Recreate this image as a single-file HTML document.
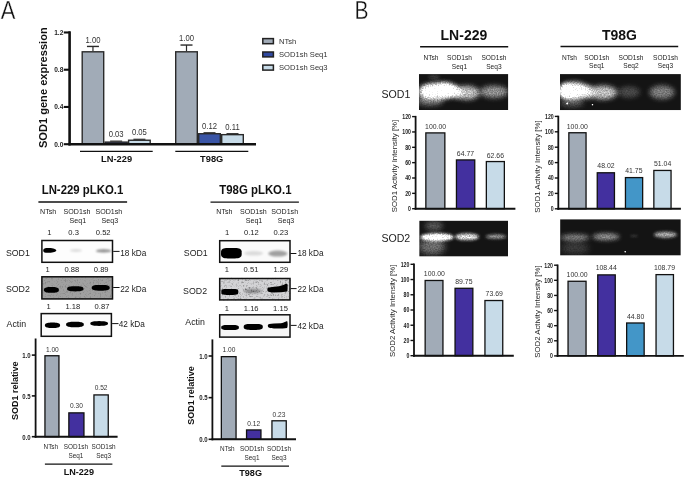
<!DOCTYPE html>
<html><head><meta charset="utf-8"><style>
html,body{margin:0;padding:0;background:#fff;width:685px;height:478px;overflow:hidden;}
body{position:relative;font-family:"Liberation Sans", sans-serif;}
</style></head><body>
<svg width="685" height="478" viewBox="0 0 685 478" style="position:absolute;left:0;top:0;will-change:transform">
<defs>
<filter id="blur1" x="-50%" y="-100%" width="200%" height="300%"><feGaussianBlur stdDeviation="0.75"/></filter>
<filter id="blur1b" x="-50%" y="-100%" width="200%" height="300%"><feGaussianBlur stdDeviation="1.1"/></filter>
<filter id="blur2" x="-50%" y="-100%" width="200%" height="300%"><feGaussianBlur stdDeviation="3"/></filter>
<clipPath id="bc0"><rect x="41.2" y="239.8" width="72.00" height="23.20"/></clipPath><clipPath id="bc1"><rect x="41.2" y="276.1" width="72.00" height="23.50"/></clipPath><filter id="bn1" x="41.2" y="276.1" width="72.00" height="23.50" filterUnits="userSpaceOnUse"><feTurbulence type="fractalNoise" baseFrequency="0.6" numOctaves="3" seed="12"/><feColorMatrix type="matrix" values="0 0 0 0 0  0 0 0 0 0  0 0 0 0 0  -2.6 0 0 0 1.25"/></filter><clipPath id="bc2"><rect x="40.5" y="312.9" width="71.60" height="24.10"/></clipPath><clipPath id="bc3"><rect x="219.0" y="240.0" width="71.70" height="23.00"/></clipPath><clipPath id="bc4"><rect x="219.0" y="277.8" width="71.70" height="22.80"/></clipPath><filter id="bn4" x="219.0" y="277.8" width="71.70" height="22.80" filterUnits="userSpaceOnUse"><feTurbulence type="fractalNoise" baseFrequency="0.55" numOctaves="3" seed="15"/><feColorMatrix type="matrix" values="0 0 0 0 0  0 0 0 0 0  0 0 0 0 0  -2.6 0 0 0 1.25"/></filter><clipPath id="bc5"><rect x="219.0" y="314.1" width="71.70" height="23.70"/></clipPath><clipPath id="gc0"><rect x="418.9" y="74.1" width="89.40" height="36.00"/></clipPath><filter id="grain0" x="418.9" y="74.1" width="89.40" height="36.00" filterUnits="userSpaceOnUse"><feTurbulence type="fractalNoise" baseFrequency="0.75" numOctaves="1" seed="3" result="t"/><feColorMatrix in="t" type="matrix" values="0 0 0 0 1  0 0 0 0 1  0 0 0 0 1  2.0 0 0 0 -0.5" result="m"/><feComposite in="SourceGraphic" in2="m" operator="arithmetic" k1="0.55" k2="0.75" k3="0" k4="0"/><feComponentTransfer><feFuncA type="linear" slope="1.3"/></feComponentTransfer></filter><filter id="gb0" x="-100%" y="-200%" width="300%" height="500%"><feGaussianBlur stdDeviation="2.8"/></filter><filter id="gb1" x="-100%" y="-200%" width="300%" height="500%"><feGaussianBlur stdDeviation="2.5"/></filter><filter id="gb2" x="-100%" y="-200%" width="300%" height="500%"><feGaussianBlur stdDeviation="1.5"/></filter><clipPath id="gc1"><rect x="419.2" y="220.6" width="88.80" height="36.00"/></clipPath><filter id="grain1" x="419.2" y="220.6" width="88.80" height="36.00" filterUnits="userSpaceOnUse"><feTurbulence type="fractalNoise" baseFrequency="0.75" numOctaves="1" seed="5" result="t"/><feColorMatrix in="t" type="matrix" values="0 0 0 0 1  0 0 0 0 1  0 0 0 0 1  2.0 0 0 0 -0.5" result="m"/><feComposite in="SourceGraphic" in2="m" operator="arithmetic" k1="0.55" k2="0.75" k3="0" k4="0"/><feComponentTransfer><feFuncA type="linear" slope="1.3"/></feComponentTransfer></filter><filter id="gb3" x="-100%" y="-200%" width="300%" height="500%"><feGaussianBlur stdDeviation="1.6"/></filter><filter id="gb4" x="-100%" y="-200%" width="300%" height="500%"><feGaussianBlur stdDeviation="1.4"/></filter><filter id="gb5" x="-100%" y="-200%" width="300%" height="500%"><feGaussianBlur stdDeviation="3"/></filter><clipPath id="gc2"><rect x="560.0" y="74.1" width="120.90" height="36.10"/></clipPath><filter id="grain2" x="560.0" y="74.1" width="120.90" height="36.10" filterUnits="userSpaceOnUse"><feTurbulence type="fractalNoise" baseFrequency="0.75" numOctaves="1" seed="7" result="t"/><feColorMatrix in="t" type="matrix" values="0 0 0 0 1  0 0 0 0 1  0 0 0 0 1  2.0 0 0 0 -0.5" result="m"/><feComposite in="SourceGraphic" in2="m" operator="arithmetic" k1="0.55" k2="0.75" k3="0" k4="0"/><feComponentTransfer><feFuncA type="linear" slope="1.3"/></feComponentTransfer></filter><filter id="gb6" x="-100%" y="-200%" width="300%" height="500%"><feGaussianBlur stdDeviation="2.6"/></filter><filter id="gb7" x="-100%" y="-200%" width="300%" height="500%"><feGaussianBlur stdDeviation="2"/></filter><filter id="gb8" x="-100%" y="-200%" width="300%" height="500%"><feGaussianBlur stdDeviation="0.3"/></filter><clipPath id="gc3"><rect x="560.1" y="219.2" width="120.70" height="36.40"/></clipPath><filter id="grain3" x="560.1" y="219.2" width="120.70" height="36.40" filterUnits="userSpaceOnUse"><feTurbulence type="fractalNoise" baseFrequency="0.75" numOctaves="1" seed="9" result="t"/><feColorMatrix in="t" type="matrix" values="0 0 0 0 1  0 0 0 0 1  0 0 0 0 1  2.0 0 0 0 -0.5" result="m"/><feComposite in="SourceGraphic" in2="m" operator="arithmetic" k1="0.55" k2="0.75" k3="0" k4="0"/><feComponentTransfer><feFuncA type="linear" slope="1.3"/></feComponentTransfer></filter><filter id="gb9" x="-100%" y="-200%" width="300%" height="500%"><feGaussianBlur stdDeviation="1.2"/></filter><filter id="gb10" x="-100%" y="-200%" width="300%" height="500%"><feGaussianBlur stdDeviation="1.8"/></filter>
</defs>
<g font-family='"Liberation Sans", sans-serif'>
<g clip-path="url(#bc0)"><rect x="41.2" y="239.8" width="72.00" height="23.20" fill="#fdfdfd"/><path d="M43.2,250.5 C43.2,248.2 46,247.9 49.5,248.1 C53,248.3 56.3,249.3 56.3,250.5 C56.3,251.7 53,252.6 49.5,252.8 C46,253.0 43.2,252.8 43.2,250.5 Z" fill="#000" filter="url(#blur1)"/><ellipse cx="76.00" cy="250.50" rx="6.20" ry="1.46" fill="#000" opacity="0.13" filter="url(#blur1b)"/><ellipse cx="103.60" cy="250.90" rx="7.60" ry="1.68" fill="#000" opacity="0.45" filter="url(#blur1b)"/></g><rect x="41.90" y="240.50" width="70.60" height="21.80" fill="none" stroke="#111" stroke-width="1.5"/><g clip-path="url(#bc1)"><rect x="41.2" y="276.1" width="72.00" height="23.50" fill="#a0a0a0"/><rect x="41.2" y="276.1" width="72.00" height="23.50" fill="#000" opacity="0.2" filter="url(#bn1)"/><path d="M58.90,289.90 L58.83,290.64 L58.63,291.12 L58.29,291.52 L57.81,291.87 L57.20,292.16 L56.46,292.39 L55.58,292.58 L54.54,292.71 L53.30,292.79 L51.40,292.82 L49.50,292.79 L48.26,292.71 L47.22,292.58 L46.34,292.39 L45.60,292.16 L44.99,291.87 L44.51,291.52 L44.17,291.12 L43.97,290.64 L43.90,289.90 L43.97,289.16 L44.17,288.68 L44.51,288.28 L44.99,287.93 L45.60,287.64 L46.34,287.41 L47.22,287.22 L48.26,287.09 L49.50,287.01 L51.40,286.98 L53.30,287.01 L54.54,287.09 L55.58,287.22 L56.46,287.41 L57.20,287.64 L57.81,287.93 L58.29,288.28 L58.63,288.68 L58.83,289.16 Z" fill="#000" opacity="1.0" filter="url(#blur1)"/><path d="M83.50,288.80 L83.43,289.46 L83.20,289.89 L82.83,290.24 L82.31,290.55 L81.64,290.81 L80.83,291.02 L79.87,291.18 L78.74,291.30 L77.38,291.37 L75.30,291.39 L73.22,291.37 L71.86,291.30 L70.73,291.18 L69.77,291.02 L68.96,290.81 L68.29,290.55 L67.77,290.24 L67.40,289.89 L67.17,289.46 L67.10,288.80 L67.17,288.14 L67.40,287.71 L67.77,287.36 L68.29,287.05 L68.96,286.79 L69.77,286.58 L70.73,286.42 L71.86,286.30 L73.22,286.23 L75.30,286.21 L77.38,286.23 L78.74,286.30 L79.87,286.42 L80.83,286.58 L81.64,286.79 L82.31,287.05 L82.83,287.36 L83.20,287.71 L83.43,288.14 Z" fill="#000" opacity="1.0" filter="url(#blur1)"/><path d="M109.70,287.80 L109.62,288.54 L109.37,289.02 L108.96,289.42 L108.39,289.77 L107.66,290.06 L106.77,290.29 L105.71,290.48 L104.47,290.61 L102.98,290.69 L100.70,290.72 L98.42,290.69 L96.93,290.61 L95.69,290.48 L94.63,290.29 L93.74,290.06 L93.01,289.77 L92.44,289.42 L92.03,289.02 L91.78,288.54 L91.70,287.80 L91.78,287.06 L92.03,286.58 L92.44,286.18 L93.01,285.83 L93.74,285.54 L94.63,285.31 L95.69,285.12 L96.93,284.99 L98.42,284.91 L100.70,284.88 L102.98,284.91 L104.47,284.99 L105.71,285.12 L106.77,285.31 L107.66,285.54 L108.39,285.83 L108.96,286.18 L109.37,286.58 L109.62,287.06 Z" fill="#000" opacity="1.0" filter="url(#blur1)"/></g><rect x="41.90" y="276.80" width="70.60" height="22.10" fill="none" stroke="#111" stroke-width="1.5"/><g clip-path="url(#bc2)"><rect x="40.5" y="312.9" width="71.60" height="24.10" fill="#fbfbfb"/><path d="M60.10,325.30 L60.03,325.98 L59.82,326.43 L59.48,326.80 L59.00,327.12 L58.38,327.39 L57.63,327.61 L56.73,327.78 L55.68,327.90 L54.42,327.98 L52.50,328.00 L50.58,327.98 L49.32,327.90 L48.27,327.78 L47.37,327.61 L46.62,327.39 L46.00,327.12 L45.52,326.80 L45.18,326.43 L44.97,325.98 L44.90,325.30 L44.97,324.62 L45.18,324.17 L45.52,323.80 L46.00,323.48 L46.62,323.21 L47.37,322.99 L48.27,322.82 L49.32,322.70 L50.58,322.62 L52.50,322.60 L54.42,322.62 L55.68,322.70 L56.73,322.82 L57.63,322.99 L58.38,323.21 L59.00,323.48 L59.48,323.80 L59.82,324.17 L60.03,324.62 Z" fill="#000" opacity="1.0" filter="url(#blur1)"/><path d="M83.80,324.50 L83.72,325.20 L83.48,325.65 L83.07,326.03 L82.51,326.36 L81.80,326.63 L80.92,326.85 L79.88,327.03 L78.66,327.15 L77.19,327.23 L74.95,327.25 L72.71,327.23 L71.24,327.15 L70.02,327.03 L68.98,326.85 L68.10,326.63 L67.39,326.36 L66.83,326.03 L66.42,325.65 L66.18,325.20 L66.10,324.50 L66.18,323.80 L66.42,323.35 L66.83,322.97 L67.39,322.64 L68.10,322.37 L68.98,322.15 L70.02,321.97 L71.24,321.85 L72.71,321.77 L74.95,321.75 L77.19,321.77 L78.66,321.85 L79.88,321.97 L80.92,322.15 L81.80,322.37 L82.51,322.64 L83.07,322.97 L83.48,323.35 L83.72,323.80 Z" fill="#000" opacity="1.0" filter="url(#blur1)"/><path d="M108.00,323.50 L107.92,324.10 L107.68,324.50 L107.27,324.82 L106.71,325.10 L106.00,325.34 L105.12,325.53 L104.08,325.68 L102.86,325.79 L101.39,325.85 L99.15,325.88 L96.91,325.85 L95.44,325.79 L94.22,325.68 L93.18,325.53 L92.30,325.34 L91.59,325.10 L91.03,324.82 L90.62,324.50 L90.38,324.10 L90.30,323.50 L90.38,322.90 L90.62,322.50 L91.03,322.18 L91.59,321.90 L92.30,321.66 L93.18,321.47 L94.22,321.32 L95.44,321.21 L96.91,321.15 L99.15,321.12 L101.39,321.15 L102.86,321.21 L104.08,321.32 L105.12,321.47 L106.00,321.66 L106.71,321.90 L107.27,322.18 L107.68,322.50 L107.92,322.90 Z" fill="#000" opacity="1.0" filter="url(#blur1)"/></g><rect x="41.20" y="313.60" width="70.20" height="22.70" fill="none" stroke="#111" stroke-width="1.5"/><g clip-path="url(#bc3)"><rect x="219.0" y="240.0" width="71.70" height="23.00" fill="#fafafa"/><path d="M241.70,253.20 L241.63,255.03 L241.41,255.91 L241.04,256.57 L240.52,257.11 L239.84,257.54 L238.99,257.89 L237.94,258.15 L236.64,258.34 L234.94,258.45 L231.35,258.49 L227.76,258.45 L226.06,258.34 L224.76,258.15 L223.71,257.89 L222.86,257.54 L222.18,257.11 L221.66,256.57 L221.29,255.91 L221.07,255.03 L221.00,253.20 L221.07,251.37 L221.29,250.49 L221.66,249.83 L222.18,249.29 L222.86,248.86 L223.71,248.51 L224.76,248.25 L226.06,248.06 L227.76,247.95 L231.35,247.91 L234.94,247.95 L236.64,248.06 L237.94,248.25 L238.99,248.51 L239.84,248.86 L240.52,249.29 L241.04,249.83 L241.41,250.49 L241.63,251.37 Z" fill="#000" opacity="1.0" filter="url(#blur1)"/><ellipse cx="253.65" cy="253.30" rx="9.65" ry="2.24" fill="#000" opacity="0.12" filter="url(#blur1b)"/><ellipse cx="277.85" cy="253.60" rx="9.65" ry="3.02" fill="#000" opacity="0.36" filter="url(#blur1b)"/></g><rect x="219.70" y="240.70" width="70.30" height="21.60" fill="none" stroke="#111" stroke-width="1.5"/><g clip-path="url(#bc4)"><rect x="219.0" y="277.8" width="71.70" height="22.80" fill="#d3d3d5"/><rect x="219.0" y="277.8" width="71.70" height="22.80" fill="#000" opacity="0.4" filter="url(#bn4)"/><path d="M238.30,291.90 L238.25,293.10 L238.09,293.58 L237.82,293.94 L237.45,294.22 L236.95,294.44 L236.32,294.62 L235.53,294.75 L234.53,294.85 L233.16,294.91 L229.80,294.92 L226.44,294.91 L225.07,294.85 L224.07,294.75 L223.28,294.62 L222.65,294.44 L222.15,294.22 L221.78,293.94 L221.51,293.58 L221.35,293.10 L221.30,291.90 L221.35,290.70 L221.51,290.22 L221.78,289.86 L222.15,289.58 L222.65,289.36 L223.28,289.18 L224.07,289.05 L225.07,288.95 L226.44,288.89 L229.80,288.88 L233.16,288.89 L234.53,288.95 L235.53,289.05 L236.32,289.18 L236.95,289.36 L237.45,289.58 L237.82,289.86 L238.09,290.22 L238.25,290.70 Z" fill="#000" opacity="1.0" filter="url(#blur1)"/><ellipse cx="252.80" cy="291.00" rx="8.80" ry="2.35" fill="#000" opacity="0.33" filter="url(#blur1b)"/><path d="M267.6,287.8 L272,286.9 L279,286.2 L284,284.8 L286.2,283.4 L287.6,284.6 L287.6,289 L287.2,291.6 L281,292.3 L272,292.4 L268.4,291.8 L267.3,290 Z" fill="#000" filter="url(#blur1)"/></g><rect x="219.70" y="278.50" width="70.30" height="21.40" fill="none" stroke="#111" stroke-width="1.5"/><g clip-path="url(#bc5)"><rect x="219.0" y="314.1" width="71.70" height="23.70" fill="#f6f6f6"/><path d="M238.90,327.50 L238.83,328.31 L238.63,328.74 L238.28,329.08 L237.80,329.36 L237.18,329.59 L236.40,329.77 L235.45,329.91 L234.30,330.01 L232.83,330.07 L230.05,330.09 L227.27,330.07 L225.80,330.01 L224.65,329.91 L223.70,329.77 L222.92,329.59 L222.30,329.36 L221.82,329.08 L221.47,328.74 L221.27,328.31 L221.20,327.50 L221.27,326.69 L221.47,326.26 L221.82,325.92 L222.30,325.64 L222.92,325.41 L223.70,325.23 L224.65,325.09 L225.80,324.99 L227.27,324.93 L230.05,324.91 L232.83,324.93 L234.30,324.99 L235.45,325.09 L236.40,325.23 L237.18,325.41 L237.80,325.64 L238.28,325.92 L238.63,326.26 L238.83,326.69 Z" fill="#000" opacity="1.0" filter="url(#blur1)"/><path d="M262.80,326.90 L262.73,327.85 L262.51,328.35 L262.14,328.75 L261.62,329.07 L260.94,329.34 L260.10,329.55 L259.08,329.71 L257.83,329.83 L256.25,329.90 L253.25,329.92 L250.25,329.90 L248.67,329.83 L247.42,329.71 L246.40,329.55 L245.56,329.34 L244.88,329.07 L244.36,328.75 L243.99,328.35 L243.77,327.85 L243.70,326.90 L243.77,325.95 L243.99,325.45 L244.36,325.05 L244.88,324.73 L245.56,324.46 L246.40,324.25 L247.42,324.09 L248.67,323.97 L250.25,323.90 L253.25,323.88 L256.25,323.90 L257.83,323.97 L259.08,324.09 L260.10,324.25 L260.94,324.46 L261.62,324.73 L262.14,325.05 L262.51,325.45 L262.73,325.95 Z" fill="#000" opacity="1.0" filter="url(#blur1)"/><path d="M267.8,325.6 C267.8,324.1 270,323.8 274,323.6 L281,323.2 C284,322.8 286,321.4 287.1,321.0 C287.9,322.6 287.9,326.4 287.1,327.9 C284,328.5 279,328.6 274,328.5 C270,328.4 267.8,327.9 267.8,325.6 Z" fill="#000" filter="url(#blur1)"/></g><rect x="219.70" y="314.80" width="70.30" height="22.30" fill="none" stroke="#111" stroke-width="1.5"/><g clip-path="url(#gc0)"><rect x="418.9" y="74.1" width="89.40" height="36.00" fill="#141414"/><g filter="url(#grain0)"><ellipse cx="439" cy="91.0" rx="17" ry="8" fill="#fff" opacity="0.85" filter="url(#gb0)"/><ellipse cx="426" cy="92" rx="8" ry="6.5" fill="#fff" opacity="0.6" filter="url(#gb1)"/><ellipse cx="447" cy="89.5" rx="9" ry="6" fill="#fff" opacity="0.72" filter="url(#gb1)"/><ellipse cx="456" cy="92" rx="6" ry="6" fill="#fff" opacity="0.55" filter="url(#gb1)"/><ellipse cx="467" cy="92.8" rx="12.5" ry="6.8" fill="#fff" opacity="0.55" filter="url(#gb0)"/><ellipse cx="494" cy="91.8" rx="14" ry="6" fill="#fff" opacity="0.4" filter="url(#gb0)"/><ellipse cx="430" cy="101" rx="13" ry="4.5" fill="#fff" opacity="0.3" filter="url(#gb1)"/><ellipse cx="434" cy="77" rx="6" ry="2" fill="#fff" opacity="0.12" filter="url(#gb2)"/></g></g><g clip-path="url(#gc1)"><rect x="419.2" y="220.6" width="88.80" height="36.00" fill="#141414"/><g filter="url(#grain1)"><ellipse cx="437" cy="237.2" rx="16.5" ry="3.7" fill="#fff" opacity="0.85" filter="url(#gb3)"/><ellipse cx="467" cy="236.8" rx="12" ry="3.3" fill="#fff" opacity="0.66" filter="url(#gb3)"/><ellipse cx="496" cy="236.6" rx="10.5" ry="2.0" fill="#fff" opacity="0.45" filter="url(#gb4)"/><ellipse cx="432" cy="246.5" rx="13" ry="8" fill="#fff" opacity="0.28" filter="url(#gb5)"/><ellipse cx="434" cy="226" rx="9" ry="5" fill="#fff" opacity="0.2" filter="url(#gb1)"/></g></g><g clip-path="url(#gc2)"><rect x="560.0" y="74.1" width="120.90" height="36.10" fill="#141414"/><g filter="url(#grain2)"><ellipse cx="574" cy="91" rx="14.5" ry="8.5" fill="#fff" opacity="0.85" filter="url(#gb6)"/><ellipse cx="566" cy="91" rx="6" ry="7.5" fill="#fff" opacity="0.7" filter="url(#gb7)"/><ellipse cx="588" cy="92" rx="6" ry="6.5" fill="#fff" opacity="0.55" filter="url(#gb6)"/><ellipse cx="603" cy="92.5" rx="14" ry="6.8" fill="#fff" opacity="0.55" filter="url(#gb6)"/><ellipse cx="629" cy="92" rx="11" ry="5.5" fill="#fff" opacity="0.17" filter="url(#gb6)"/><ellipse cx="662" cy="92.3" rx="12.5" ry="6.8" fill="#fff" opacity="0.33" filter="url(#gb6)"/><ellipse cx="572" cy="103" rx="12" ry="4" fill="#fff" opacity="0.2" filter="url(#gb1)"/><ellipse cx="567.3" cy="103.4" rx="0.9" ry="0.9" fill="#fff" opacity="0.9" filter="url(#gb8)"/><ellipse cx="592.5" cy="104.8" rx="0.8" ry="0.8" fill="#fff" opacity="0.7" filter="url(#gb8)"/></g></g><g clip-path="url(#gc3)"><rect x="560.1" y="219.2" width="120.70" height="36.40" fill="#141414"/><g filter="url(#grain3)"><ellipse cx="575" cy="237.5" rx="14.5" ry="3.3" fill="#fff" opacity="0.34" filter="url(#gb7)"/><ellipse cx="606" cy="236.8" rx="13.5" ry="3.2" fill="#fff" opacity="0.42" filter="url(#gb7)"/><ellipse cx="634" cy="236" rx="4" ry="1.2" fill="#fff" opacity="0.1" filter="url(#gb9)"/><ellipse cx="665.5" cy="234.7" rx="11.5" ry="3.0" fill="#fff" opacity="0.47" filter="url(#gb10)"/><ellipse cx="575" cy="248" rx="14" ry="6" fill="#fff" opacity="0.12" filter="url(#gb5)"/><ellipse cx="625.2" cy="251.8" rx="0.8" ry="0.8" fill="#fff" opacity="0.8" filter="url(#gb8)"/></g></g>
<text transform="translate(0.8,18.7) scale(0.83,1)" font-size="26.5" fill="#111" stroke="#fff" stroke-width="0.35">A</text>
<text transform="translate(354.4,18.9) scale(0.8,1)" font-size="26.3" fill="#111" stroke="#fff" stroke-width="0.35">B</text>
<rect x="82.2" y="51.8" width="21.50" height="92.20" fill="#a1abb7" stroke="#2a2a2a" stroke-width="1.4"/>
<line x1="92.95" y1="51.099999999999994" x2="92.95" y2="46.44499999999999" stroke="#2a2a2a" stroke-width="1.2"/>
<line x1="86.95" y1="46.44499999999999" x2="98.95" y2="46.44499999999999" stroke="#2a2a2a" stroke-width="1.4"/>
<rect x="105.10000000000001" y="142.10699999999997" width="22.10" height="1.89" fill="#2b3f80" stroke="#2a2a2a" stroke-width="1.4"/>
<line x1="110.15" y1="141.10699999999997" x2="122.15" y2="141.10699999999997" stroke="#222" stroke-width="1.1"/>
<rect x="128.6" y="140.24499999999998" width="21.60" height="3.76" fill="#c7dbe8" stroke="#2a2a2a" stroke-width="1.4"/>
<line x1="133.4" y1="139.24499999999998" x2="145.4" y2="139.24499999999998" stroke="#222" stroke-width="1.1"/>
<rect x="175.7" y="51.8" width="21.60" height="92.20" fill="#a1abb7" stroke="#2a2a2a" stroke-width="1.4"/>
<line x1="186.5" y1="51.099999999999994" x2="186.5" y2="45.048500000000004" stroke="#2a2a2a" stroke-width="1.2"/>
<line x1="180.5" y1="45.048500000000004" x2="192.5" y2="45.048500000000004" stroke="#2a2a2a" stroke-width="1.4"/>
<rect x="198.7" y="133.72799999999998" width="21.60" height="10.27" fill="#3a55a6" stroke="#2a2a2a" stroke-width="1.4"/>
<line x1="203.5" y1="132.72799999999998" x2="215.5" y2="132.72799999999998" stroke="#222" stroke-width="1.1"/>
<rect x="221.7" y="134.659" width="21.60" height="9.34" fill="#c7dbe8" stroke="#2a2a2a" stroke-width="1.4"/>
<line x1="226.5" y1="133.659" x2="238.5" y2="133.659" stroke="#222" stroke-width="1.1"/>
<text transform="translate(92.95,42.6) scale(0.9434,1)" font-size="8.16" text-anchor="middle" font-weight="normal" fill="#333" >1.00</text>
<text transform="translate(116.15,136.9) scale(0.9434,1)" font-size="8.16" text-anchor="middle" font-weight="normal" fill="#333" >0.03</text>
<text transform="translate(139.4,135.3) scale(0.9434,1)" font-size="8.16" text-anchor="middle" font-weight="normal" fill="#333" >0.05</text>
<text transform="translate(186.5,41.4) scale(0.9434,1)" font-size="8.16" text-anchor="middle" font-weight="normal" fill="#333" >1.00</text>
<text transform="translate(209.5,129.0) scale(0.9434,1)" font-size="8.16" text-anchor="middle" font-weight="normal" fill="#333" >0.12</text>
<text transform="translate(232.5,129.6) scale(0.9434,1)" font-size="8.16" text-anchor="middle" font-weight="normal" fill="#333" >0.11</text>
<line x1="69.6" y1="31.3" x2="69.6" y2="145.4" stroke="#111" stroke-width="2.6"/>
<line x1="68.4" y1="144.2" x2="256" y2="144.2" stroke="#111" stroke-width="2.4"/>
<line x1="63.8" y1="32.480000000000004" x2="70" y2="32.480000000000004" stroke="#111" stroke-width="2.1"/>
<text transform="translate(63.3,34.78) scale(0.9434,1)" font-size="7.00" text-anchor="end" font-weight="bold" fill="#222" >1.2</text>
<line x1="63.8" y1="69.71999999999998" x2="70" y2="69.71999999999998" stroke="#111" stroke-width="2.1"/>
<text transform="translate(63.3,72.01999999999998) scale(0.9434,1)" font-size="7.00" text-anchor="end" font-weight="bold" fill="#222" >0.8</text>
<line x1="63.8" y1="106.95999999999998" x2="70" y2="106.95999999999998" stroke="#111" stroke-width="2.1"/>
<text transform="translate(63.3,109.25999999999998) scale(0.9434,1)" font-size="7.00" text-anchor="end" font-weight="bold" fill="#222" >0.4</text>
<line x1="63.8" y1="144.2" x2="70" y2="144.2" stroke="#111" stroke-width="2.1"/>
<text transform="translate(63.3,146.5) scale(0.9434,1)" font-size="7.00" text-anchor="end" font-weight="bold" fill="#222" >0.0</text>
<text transform="translate(42.5,87.7) rotate(-90)" x="0" y="4.00" font-size="11.1" text-anchor="middle" font-weight="bold" fill="#111">SOD1 gene expression</text>
<line x1="80" y1="151.4" x2="152.7" y2="151.4" stroke="#111" stroke-width="1.3"/>
<line x1="175.3" y1="151.4" x2="248.3" y2="151.4" stroke="#111" stroke-width="1.3"/>
<text transform="translate(116.6,162.0) scale(0.9434,1)" font-size="9.86" text-anchor="middle" font-weight="bold" fill="#111" >LN-229</text>
<text transform="translate(211.7,162.2) scale(0.9434,1)" font-size="9.86" text-anchor="middle" font-weight="bold" fill="#111" >T98G</text>
<rect x="262.8" y="38.6" width="10.60" height="5.10" fill="#a1abb7" stroke="#222" stroke-width="1.5"/>
<text transform="translate(279,43.8) scale(0.9434,1)" font-size="8.06" text-anchor="start" font-weight="normal" fill="#333" >NTsh</text>
<rect x="262.8" y="52.0" width="10.60" height="4.90" fill="#3049a0" stroke="#222" stroke-width="1.5"/>
<text transform="translate(279,57.0) scale(0.9434,1)" font-size="8.06" text-anchor="start" font-weight="normal" fill="#333" >SOD1sh Seq1</text>
<rect x="262.8" y="65.10000000000001" width="10.60" height="5.00" fill="#c7dbe8" stroke="#222" stroke-width="1.5"/>
<text transform="translate(279,70.3) scale(0.9434,1)" font-size="8.06" text-anchor="start" font-weight="normal" fill="#333" >SOD1sh Seq3</text>
<text transform="translate(82.5,194.3) scale(0.9434,1)" font-size="12.08" text-anchor="middle" font-weight="bold" fill="#111" >LN-229 pLKO.1</text>
<line x1="38.4" y1="202" x2="127.1" y2="202" stroke="#111" stroke-width="1.3"/>
<text transform="translate(48.2,213.5) scale(0.9434,1)" font-size="7.53" text-anchor="middle" font-weight="normal" fill="#222" >NTsh</text>
<text transform="translate(77.0,213.5) scale(0.9434,1)" font-size="7.53" text-anchor="middle" font-weight="normal" fill="#222" >SOD1sh</text>
<text transform="translate(77.9,222.9) scale(0.9434,1)" font-size="7.53" text-anchor="middle" font-weight="normal" fill="#222" >Seq1</text>
<text transform="translate(108.9,213.5) scale(0.9434,1)" font-size="7.53" text-anchor="middle" font-weight="normal" fill="#222" >SOD1sh</text>
<text transform="translate(109.9,222.9) scale(0.9434,1)" font-size="7.53" text-anchor="middle" font-weight="normal" fill="#222" >Seq3</text>
<text transform="translate(49.4,234.6) scale(0.9434,1)" font-size="8.06" text-anchor="middle" font-weight="normal" fill="#222" >1</text>
<text transform="translate(73.6,234.6) scale(0.9434,1)" font-size="8.06" text-anchor="middle" font-weight="normal" fill="#222" >0.3</text>
<text transform="translate(103.2,234.6) scale(0.9434,1)" font-size="8.06" text-anchor="middle" font-weight="normal" fill="#222" >0.52</text>
<text transform="translate(47.7,271.8) scale(0.9434,1)" font-size="8.06" text-anchor="middle" font-weight="normal" fill="#222" >1</text>
<text transform="translate(71.8,271.8) scale(0.9434,1)" font-size="8.06" text-anchor="middle" font-weight="normal" fill="#222" >0.88</text>
<text transform="translate(101.2,271.8) scale(0.9434,1)" font-size="8.06" text-anchor="middle" font-weight="normal" fill="#222" >0.89</text>
<text transform="translate(48.6,309) scale(0.9434,1)" font-size="8.06" text-anchor="middle" font-weight="normal" fill="#222" >1</text>
<text transform="translate(72.9,309) scale(0.9434,1)" font-size="8.06" text-anchor="middle" font-weight="normal" fill="#222" >1.18</text>
<text transform="translate(102,309) scale(0.9434,1)" font-size="8.06" text-anchor="middle" font-weight="normal" fill="#222" >0.87</text>
<text transform="translate(255.4,194.3) scale(0.9434,1)" font-size="12.08" text-anchor="middle" font-weight="bold" fill="#111" >T98G pLKO.1</text>
<line x1="210.5" y1="202.2" x2="298.9" y2="202.2" stroke="#111" stroke-width="1.3"/>
<text transform="translate(224.4,213.5) scale(0.9434,1)" font-size="7.53" text-anchor="middle" font-weight="normal" fill="#222" >NTsh</text>
<text transform="translate(253.3,213.5) scale(0.9434,1)" font-size="7.53" text-anchor="middle" font-weight="normal" fill="#222" >SOD1sh</text>
<text transform="translate(254.0,222.9) scale(0.9434,1)" font-size="7.53" text-anchor="middle" font-weight="normal" fill="#222" >Seq1</text>
<text transform="translate(284.7,213.5) scale(0.9434,1)" font-size="7.53" text-anchor="middle" font-weight="normal" fill="#222" >SOD1sh</text>
<text transform="translate(286.0,222.9) scale(0.9434,1)" font-size="7.53" text-anchor="middle" font-weight="normal" fill="#222" >Seq3</text>
<text transform="translate(227.2,234.7) scale(0.9434,1)" font-size="8.06" text-anchor="middle" font-weight="normal" fill="#222" >1</text>
<text transform="translate(251.4,234.7) scale(0.9434,1)" font-size="8.06" text-anchor="middle" font-weight="normal" fill="#222" >0.12</text>
<text transform="translate(280.9,234.7) scale(0.9434,1)" font-size="8.06" text-anchor="middle" font-weight="normal" fill="#222" >0.23</text>
<text transform="translate(226.9,271.8) scale(0.9434,1)" font-size="8.06" text-anchor="middle" font-weight="normal" fill="#222" >1</text>
<text transform="translate(251,271.8) scale(0.9434,1)" font-size="8.06" text-anchor="middle" font-weight="normal" fill="#222" >0.51</text>
<text transform="translate(280.8,271.8) scale(0.9434,1)" font-size="8.06" text-anchor="middle" font-weight="normal" fill="#222" >1.29</text>
<text transform="translate(226.9,310.5) scale(0.9434,1)" font-size="8.06" text-anchor="middle" font-weight="normal" fill="#222" >1</text>
<text transform="translate(251.2,310.5) scale(0.9434,1)" font-size="8.06" text-anchor="middle" font-weight="normal" fill="#222" >1.16</text>
<text transform="translate(280.5,310.5) scale(0.9434,1)" font-size="8.06" text-anchor="middle" font-weight="normal" fill="#222" >1.15</text>
<text transform="translate(5.9,255.8) scale(0.9434,1)" font-size="9.33" text-anchor="start" font-weight="normal" fill="#222" >SOD1</text>
<text transform="translate(5.9,291.9) scale(0.9434,1)" font-size="9.33" text-anchor="start" font-weight="normal" fill="#222" >SOD2</text>
<text transform="translate(6.6,327.4) scale(0.9434,1)" font-size="9.33" text-anchor="start" font-weight="normal" fill="#222" >Actin</text>
<text transform="translate(183.8,255.8) scale(0.9434,1)" font-size="9.33" text-anchor="start" font-weight="normal" fill="#222" >SOD1</text>
<text transform="translate(183.1,293.6) scale(0.9434,1)" font-size="9.33" text-anchor="start" font-weight="normal" fill="#222" >SOD2</text>
<text transform="translate(185.3,324.7) scale(0.9434,1)" font-size="9.33" text-anchor="start" font-weight="normal" fill="#222" >Actin</text>
<line x1="113.2" y1="251.4" x2="119.60000000000001" y2="251.4" stroke="#111" stroke-width="1.0"/>
<text transform="translate(120.2,255.8) scale(0.9434,1)" font-size="8.75" text-anchor="start" font-weight="normal" fill="#222" >18 kDa</text>
<line x1="113.2" y1="287.5" x2="119.60000000000001" y2="287.5" stroke="#111" stroke-width="1.0"/>
<text transform="translate(120.2,291.9) scale(0.9434,1)" font-size="8.75" text-anchor="start" font-weight="normal" fill="#222" >22 kDa</text>
<line x1="112.1" y1="323.6" x2="118.5" y2="323.6" stroke="#111" stroke-width="1.0"/>
<text transform="translate(118.7,327.4) scale(0.9434,1)" font-size="8.75" text-anchor="start" font-weight="normal" fill="#222" >42 kDa</text>
<line x1="290.4" y1="253.5" x2="296.4" y2="253.5" stroke="#111" stroke-width="1.0"/>
<text transform="translate(297.4,255.8) scale(0.9434,1)" font-size="8.75" text-anchor="start" font-weight="normal" fill="#222" >18 kDa</text>
<line x1="290.6" y1="288.6" x2="296.59999999999997" y2="288.6" stroke="#111" stroke-width="1.0"/>
<text transform="translate(297.4,291.9) scale(0.9434,1)" font-size="8.75" text-anchor="start" font-weight="normal" fill="#222" >22 kDa</text>
<line x1="290.6" y1="325.4" x2="296.59999999999997" y2="325.4" stroke="#111" stroke-width="1.0"/>
<text transform="translate(297.4,328.7) scale(0.9434,1)" font-size="8.75" text-anchor="start" font-weight="normal" fill="#222" >42 kDa</text>
<rect x="44.949999999999996" y="355.75" width="14.00" height="80.95" fill="#a1abb7" stroke="#111" stroke-width="1.3"/>
<rect x="68.85000000000001" y="412.87" width="15.10" height="23.83" fill="#43309f" stroke="#111" stroke-width="1.3"/>
<rect x="93.95" y="394.918" width="14.30" height="41.78" fill="#c7dbe8" stroke="#111" stroke-width="1.3"/>
<line x1="35.6" y1="338.5" x2="35.6" y2="437.7" stroke="#111" stroke-width="1.8"/>
<line x1="34.7" y1="436.7" x2="117.6" y2="436.7" stroke="#111" stroke-width="1.9"/>
<line x1="31.8" y1="355.1" x2="35.6" y2="355.1" stroke="#111" stroke-width="1.6"/>
<text transform="translate(30.700000000000003,357.90000000000003) scale(0.8628,1)" font-size="7.00" text-anchor="end" font-weight="bold" fill="#222" >1.0</text>
<line x1="31.8" y1="395.9" x2="35.6" y2="395.9" stroke="#111" stroke-width="1.6"/>
<text transform="translate(30.700000000000003,398.7) scale(0.8628,1)" font-size="7.00" text-anchor="end" font-weight="bold" fill="#222" >0.5</text>
<line x1="31.8" y1="436.7" x2="35.6" y2="436.7" stroke="#111" stroke-width="1.6"/>
<text transform="translate(30.700000000000003,439.5) scale(0.8628,1)" font-size="7.00" text-anchor="end" font-weight="bold" fill="#222" >0.0</text>
<text transform="translate(52.3,351.5) scale(0.9434,1)" font-size="7.00" text-anchor="middle" font-weight="normal" fill="#333" >1.00</text>
<text transform="translate(76.4,408.3) scale(0.9434,1)" font-size="7.00" text-anchor="middle" font-weight="normal" fill="#333" >0.30</text>
<text transform="translate(101.1,390.2) scale(0.9434,1)" font-size="7.00" text-anchor="middle" font-weight="normal" fill="#333" >0.52</text>
<text transform="translate(50.8,448.6) scale(0.9434,1)" font-size="6.78" text-anchor="middle" font-weight="normal" fill="#2a2a2a" >NTsh</text>
<text transform="translate(75.9,449.2) scale(0.9434,1)" font-size="6.78" text-anchor="middle" font-weight="normal" fill="#2a2a2a" >SOD1sh</text>
<text transform="translate(75.9,457.9) scale(0.9434,1)" font-size="6.78" text-anchor="middle" font-weight="normal" fill="#2a2a2a" >Seq1</text>
<text transform="translate(103.6,449.2) scale(0.9434,1)" font-size="6.78" text-anchor="middle" font-weight="normal" fill="#2a2a2a" >SOD1sh</text>
<text transform="translate(103.6,457.9) scale(0.9434,1)" font-size="6.78" text-anchor="middle" font-weight="normal" fill="#2a2a2a" >Seq3</text>
<line x1="44.9" y1="464.1" x2="112.4" y2="464.1" stroke="#111" stroke-width="1.3"/>
<text transform="translate(78.8,475.4) scale(0.9434,1)" font-size="9.65" text-anchor="middle" font-weight="bold" fill="#111" >LN-229</text>
<text transform="translate(14.7,390.8) rotate(-90)" x="0" y="3.24" font-size="9.0" text-anchor="middle" font-weight="bold" fill="#111">SOD1 relative</text>
<rect x="221.35" y="356.65" width="14.70" height="82.65" fill="#a1abb7" stroke="#111" stroke-width="1.3"/>
<rect x="246.55" y="429.954" width="14.40" height="9.35" fill="#43309f" stroke="#111" stroke-width="1.3"/>
<rect x="271.95" y="420.791" width="14.30" height="18.51" fill="#c7dbe8" stroke="#111" stroke-width="1.3"/>
<line x1="212.4" y1="339.4" x2="212.4" y2="440.3" stroke="#111" stroke-width="1.8"/>
<line x1="211.5" y1="439.3" x2="296" y2="439.3" stroke="#111" stroke-width="1.9"/>
<line x1="208.6" y1="356.0" x2="212.4" y2="356.0" stroke="#111" stroke-width="1.6"/>
<text transform="translate(207.5,358.8) scale(0.8628,1)" font-size="7.00" text-anchor="end" font-weight="bold" fill="#222" >1.0</text>
<line x1="208.6" y1="397.65" x2="212.4" y2="397.65" stroke="#111" stroke-width="1.6"/>
<text transform="translate(207.5,400.45) scale(0.8628,1)" font-size="7.00" text-anchor="end" font-weight="bold" fill="#222" >0.5</text>
<line x1="208.6" y1="439.3" x2="212.4" y2="439.3" stroke="#111" stroke-width="1.6"/>
<text transform="translate(207.5,442.1) scale(0.8628,1)" font-size="7.00" text-anchor="end" font-weight="bold" fill="#222" >0.0</text>
<text transform="translate(228.9,352.3) scale(0.9434,1)" font-size="7.00" text-anchor="middle" font-weight="normal" fill="#333" >1.00</text>
<text transform="translate(253.7,426.3) scale(0.9434,1)" font-size="7.00" text-anchor="middle" font-weight="normal" fill="#333" >0.12</text>
<text transform="translate(279,417) scale(0.9434,1)" font-size="7.00" text-anchor="middle" font-weight="normal" fill="#333" >0.23</text>
<text transform="translate(227.4,450.5) scale(0.9434,1)" font-size="6.78" text-anchor="middle" font-weight="normal" fill="#2a2a2a" >NTsh</text>
<text transform="translate(252,450.5) scale(0.9434,1)" font-size="6.78" text-anchor="middle" font-weight="normal" fill="#2a2a2a" >SOD1sh</text>
<text transform="translate(252,459.6) scale(0.9434,1)" font-size="6.78" text-anchor="middle" font-weight="normal" fill="#2a2a2a" >Seq1</text>
<text transform="translate(279,450.5) scale(0.9434,1)" font-size="6.78" text-anchor="middle" font-weight="normal" fill="#2a2a2a" >SOD1sh</text>
<text transform="translate(279,459.6) scale(0.9434,1)" font-size="6.78" text-anchor="middle" font-weight="normal" fill="#2a2a2a" >Seq3</text>
<line x1="221.3" y1="466.2" x2="289" y2="466.2" stroke="#111" stroke-width="1.3"/>
<text transform="translate(250.6,476.2) scale(0.9434,1)" font-size="9.65" text-anchor="middle" font-weight="bold" fill="#111" >T98G</text>
<text transform="translate(191.0,395.5) rotate(-90)" x="0" y="3.24" font-size="9.0" text-anchor="middle" font-weight="bold" fill="#111">SOD1 relative</text>
<text transform="translate(463.9,39.9) scale(0.9091,1)" font-size="15.40" text-anchor="middle" font-weight="bold" fill="#111" >LN-229</text>
<line x1="420.1" y1="46.8" x2="508.2" y2="46.8" stroke="#111" stroke-width="1.4"/>
<text transform="translate(431,59.9) scale(0.9091,1)" font-size="7.26" text-anchor="middle" font-weight="normal" fill="#222" >NTsh</text>
<text transform="translate(459.5,59.9) scale(0.9091,1)" font-size="7.26" text-anchor="middle" font-weight="normal" fill="#222" >SOD1sh</text>
<text transform="translate(459.5,68.8) scale(0.9091,1)" font-size="7.26" text-anchor="middle" font-weight="normal" fill="#222" >Seq1</text>
<text transform="translate(493.9,59.9) scale(0.9091,1)" font-size="7.26" text-anchor="middle" font-weight="normal" fill="#222" >SOD1sh</text>
<text transform="translate(493.9,68.8) scale(0.9091,1)" font-size="7.26" text-anchor="middle" font-weight="normal" fill="#222" >Seq3</text>
<text transform="translate(619.4,39.7) scale(0.9091,1)" font-size="15.40" text-anchor="middle" font-weight="bold" fill="#111" >T98G</text>
<line x1="560.5" y1="46.5" x2="678.2" y2="46.5" stroke="#111" stroke-width="1.4"/>
<text transform="translate(569.4,59.7) scale(0.9091,1)" font-size="7.26" text-anchor="middle" font-weight="normal" fill="#222" >NTsh</text>
<text transform="translate(596.8,59.7) scale(0.9091,1)" font-size="7.26" text-anchor="middle" font-weight="normal" fill="#222" >SOD1sh</text>
<text transform="translate(596.8,68.2) scale(0.9091,1)" font-size="7.26" text-anchor="middle" font-weight="normal" fill="#222" >Seq1</text>
<text transform="translate(631,59.7) scale(0.9091,1)" font-size="7.26" text-anchor="middle" font-weight="normal" fill="#222" >SOD1sh</text>
<text transform="translate(631,68.2) scale(0.9091,1)" font-size="7.26" text-anchor="middle" font-weight="normal" fill="#222" >Seq2</text>
<text transform="translate(665.5,59.7) scale(0.9091,1)" font-size="7.26" text-anchor="middle" font-weight="normal" fill="#222" >SOD1sh</text>
<text transform="translate(665.5,68.2) scale(0.9091,1)" font-size="7.26" text-anchor="middle" font-weight="normal" fill="#222" >Seq3</text>
<text transform="translate(381.5,97.7) scale(0.9091,1)" font-size="11.66" text-anchor="start" font-weight="normal" fill="#222" >SOD1</text>
<text transform="translate(381.4,242.2) scale(0.9091,1)" font-size="11.66" text-anchor="start" font-weight="normal" fill="#222" >SOD2</text>
<rect x="425.84999999999997" y="132.89999999999998" width="19.00" height="75.80" fill="#a1abb7" stroke="#111" stroke-width="1.3"/>
<rect x="456.45" y="159.939025" width="18.30" height="48.76" fill="#43309f" stroke="#111" stroke-width="1.3"/>
<rect x="486.34999999999997" y="161.55845" width="18.00" height="47.14" fill="#c7dbe8" stroke="#111" stroke-width="1.3"/>
<line x1="415.6" y1="115.89999999999999" x2="415.6" y2="209.7" stroke="#111" stroke-width="1.8"/>
<line x1="414.70000000000005" y1="208.7" x2="515.4" y2="208.7" stroke="#111" stroke-width="1.9"/>
<line x1="412.1" y1="208.7" x2="415.6" y2="208.7" stroke="#111" stroke-width="1.4"/>
<text transform="translate(411.0,211.0) scale(0.8150,1)" font-size="6.40" text-anchor="end" font-weight="bold" fill="#222" >0</text>
<line x1="412.1" y1="193.35" x2="415.6" y2="193.35" stroke="#111" stroke-width="1.4"/>
<text transform="translate(411.0,195.65) scale(0.8150,1)" font-size="6.40" text-anchor="end" font-weight="bold" fill="#222" >20</text>
<line x1="412.1" y1="178.0" x2="415.6" y2="178.0" stroke="#111" stroke-width="1.4"/>
<text transform="translate(411.0,180.3) scale(0.8150,1)" font-size="6.40" text-anchor="end" font-weight="bold" fill="#222" >40</text>
<line x1="412.1" y1="162.64999999999998" x2="415.6" y2="162.64999999999998" stroke="#111" stroke-width="1.4"/>
<text transform="translate(411.0,164.95) scale(0.8150,1)" font-size="6.40" text-anchor="end" font-weight="bold" fill="#222" >60</text>
<line x1="412.1" y1="147.29999999999998" x2="415.6" y2="147.29999999999998" stroke="#111" stroke-width="1.4"/>
<text transform="translate(411.0,149.6) scale(0.8150,1)" font-size="6.40" text-anchor="end" font-weight="bold" fill="#222" >80</text>
<line x1="412.1" y1="131.95" x2="415.6" y2="131.95" stroke="#111" stroke-width="1.4"/>
<text transform="translate(411.0,134.25) scale(0.8150,1)" font-size="6.40" text-anchor="end" font-weight="bold" fill="#222" >100</text>
<line x1="412.1" y1="116.6" x2="415.6" y2="116.6" stroke="#111" stroke-width="1.4"/>
<text transform="translate(411.0,118.89999999999999) scale(0.8150,1)" font-size="6.40" text-anchor="end" font-weight="bold" fill="#222" >120</text>
<text transform="translate(435.6,128.7) scale(0.9091,1)" font-size="7.59" text-anchor="middle" font-weight="normal" fill="#333" >100.00</text>
<text transform="translate(465.5,155.6) scale(0.9091,1)" font-size="7.59" text-anchor="middle" font-weight="normal" fill="#333" >64.77</text>
<text transform="translate(495.4,157.5) scale(0.9091,1)" font-size="7.59" text-anchor="middle" font-weight="normal" fill="#333" >62.66</text>
<text transform="translate(393.9,166.0) rotate(-90)" x="0" y="2.81" font-size="7.8" text-anchor="middle" font-weight="normal" fill="#222">SOD1 Activity Intensity [%]</text>
<rect x="425.15" y="280.4833333333333" width="17.80" height="75.22" fill="#a1abb7" stroke="#111" stroke-width="1.3"/>
<rect x="455.04999999999995" y="288.29041666666666" width="17.80" height="67.41" fill="#43309f" stroke="#111" stroke-width="1.3"/>
<rect x="484.95" y="300.52278333333334" width="17.80" height="55.18" fill="#c7dbe8" stroke="#111" stroke-width="1.3"/>
<line x1="414.0" y1="263.6" x2="414.0" y2="356.7" stroke="#111" stroke-width="1.8"/>
<line x1="413.1" y1="355.7" x2="513.8" y2="355.7" stroke="#111" stroke-width="1.9"/>
<line x1="410.5" y1="355.7" x2="414.0" y2="355.7" stroke="#111" stroke-width="1.4"/>
<text transform="translate(409.4,358.0) scale(0.8150,1)" font-size="6.40" text-anchor="end" font-weight="bold" fill="#222" >0</text>
<line x1="410.5" y1="340.46666666666664" x2="414.0" y2="340.46666666666664" stroke="#111" stroke-width="1.4"/>
<text transform="translate(409.4,342.76666666666665) scale(0.8150,1)" font-size="6.40" text-anchor="end" font-weight="bold" fill="#222" >20</text>
<line x1="410.5" y1="325.23333333333335" x2="414.0" y2="325.23333333333335" stroke="#111" stroke-width="1.4"/>
<text transform="translate(409.4,327.53333333333336) scale(0.8150,1)" font-size="6.40" text-anchor="end" font-weight="bold" fill="#222" >40</text>
<line x1="410.5" y1="310.0" x2="414.0" y2="310.0" stroke="#111" stroke-width="1.4"/>
<text transform="translate(409.4,312.3) scale(0.8150,1)" font-size="6.40" text-anchor="end" font-weight="bold" fill="#222" >60</text>
<line x1="410.5" y1="294.76666666666665" x2="414.0" y2="294.76666666666665" stroke="#111" stroke-width="1.4"/>
<text transform="translate(409.4,297.06666666666666) scale(0.8150,1)" font-size="6.40" text-anchor="end" font-weight="bold" fill="#222" >80</text>
<line x1="410.5" y1="279.5333333333333" x2="414.0" y2="279.5333333333333" stroke="#111" stroke-width="1.4"/>
<text transform="translate(409.4,281.8333333333333) scale(0.8150,1)" font-size="6.40" text-anchor="end" font-weight="bold" fill="#222" >100</text>
<line x1="410.5" y1="264.3" x2="414.0" y2="264.3" stroke="#111" stroke-width="1.4"/>
<text transform="translate(409.4,266.6) scale(0.8150,1)" font-size="6.40" text-anchor="end" font-weight="bold" fill="#222" >120</text>
<text transform="translate(434.4,276.2) scale(0.9091,1)" font-size="7.59" text-anchor="middle" font-weight="normal" fill="#333" >100.00</text>
<text transform="translate(463.9,284.2) scale(0.9091,1)" font-size="7.59" text-anchor="middle" font-weight="normal" fill="#333" >89.75</text>
<text transform="translate(494.2,296.4) scale(0.9091,1)" font-size="7.59" text-anchor="middle" font-weight="normal" fill="#333" >73.69</text>
<text transform="translate(392.6,310.8) rotate(-90)" x="0" y="2.81" font-size="7.8" text-anchor="middle" font-weight="normal" fill="#222">SOD2 Activity Intensity [%]</text>
<rect x="568.85" y="132.75" width="17.20" height="76.05" fill="#a1abb7" stroke="#111" stroke-width="1.3"/>
<rect x="597.25" y="172.7746" width="17.20" height="36.03" fill="#43309f" stroke="#111" stroke-width="1.3"/>
<rect x="625.4499999999999" y="177.6025" width="17.20" height="31.20" fill="#4396c8" stroke="#111" stroke-width="1.3"/>
<rect x="653.85" y="170.4492" width="17.20" height="38.35" fill="#c7dbe8" stroke="#111" stroke-width="1.3"/>
<line x1="558.3" y1="115.7" x2="558.3" y2="209.8" stroke="#111" stroke-width="1.8"/>
<line x1="557.4" y1="208.8" x2="680.9" y2="208.8" stroke="#111" stroke-width="1.9"/>
<line x1="554.8" y1="208.8" x2="558.3" y2="208.8" stroke="#111" stroke-width="1.4"/>
<text transform="translate(553.6999999999999,211.10000000000002) scale(0.8150,1)" font-size="6.40" text-anchor="end" font-weight="bold" fill="#222" >0</text>
<line x1="554.8" y1="193.4" x2="558.3" y2="193.4" stroke="#111" stroke-width="1.4"/>
<text transform="translate(553.6999999999999,195.70000000000002) scale(0.8150,1)" font-size="6.40" text-anchor="end" font-weight="bold" fill="#222" >20</text>
<line x1="554.8" y1="178.0" x2="558.3" y2="178.0" stroke="#111" stroke-width="1.4"/>
<text transform="translate(553.6999999999999,180.3) scale(0.8150,1)" font-size="6.40" text-anchor="end" font-weight="bold" fill="#222" >40</text>
<line x1="554.8" y1="162.60000000000002" x2="558.3" y2="162.60000000000002" stroke="#111" stroke-width="1.4"/>
<text transform="translate(553.6999999999999,164.90000000000003) scale(0.8150,1)" font-size="6.40" text-anchor="end" font-weight="bold" fill="#222" >60</text>
<line x1="554.8" y1="147.20000000000002" x2="558.3" y2="147.20000000000002" stroke="#111" stroke-width="1.4"/>
<text transform="translate(553.6999999999999,149.50000000000003) scale(0.8150,1)" font-size="6.40" text-anchor="end" font-weight="bold" fill="#222" >80</text>
<line x1="554.8" y1="131.8" x2="558.3" y2="131.8" stroke="#111" stroke-width="1.4"/>
<text transform="translate(553.6999999999999,134.10000000000002) scale(0.8150,1)" font-size="6.40" text-anchor="end" font-weight="bold" fill="#222" >100</text>
<line x1="554.8" y1="116.4" x2="558.3" y2="116.4" stroke="#111" stroke-width="1.4"/>
<text transform="translate(553.6999999999999,118.7) scale(0.8150,1)" font-size="6.40" text-anchor="end" font-weight="bold" fill="#222" >120</text>
<text transform="translate(577.3,128.6) scale(0.9091,1)" font-size="7.59" text-anchor="middle" font-weight="normal" fill="#333" >100.00</text>
<text transform="translate(606,168.3) scale(0.9091,1)" font-size="7.59" text-anchor="middle" font-weight="normal" fill="#333" >48.02</text>
<text transform="translate(633.9,173.2) scale(0.9091,1)" font-size="7.59" text-anchor="middle" font-weight="normal" fill="#333" >41.75</text>
<text transform="translate(662.6,165.9) scale(0.9091,1)" font-size="7.59" text-anchor="middle" font-weight="normal" fill="#333" >51.04</text>
<text transform="translate(537.0,166.6) rotate(-90)" x="0" y="2.81" font-size="7.8" text-anchor="middle" font-weight="normal" fill="#222">SOD1 Activity Intensity [%]</text>
<rect x="568.05" y="281.26666666666665" width="18.00" height="74.63" fill="#a1abb7" stroke="#111" stroke-width="1.3"/>
<rect x="597.75" y="274.8874333333333" width="17.50" height="81.01" fill="#43309f" stroke="#111" stroke-width="1.3"/>
<rect x="626.65" y="322.98866666666663" width="17.50" height="32.91" fill="#4396c8" stroke="#111" stroke-width="1.3"/>
<rect x="656.05" y="274.62289166666665" width="17.40" height="81.28" fill="#c7dbe8" stroke="#111" stroke-width="1.3"/>
<line x1="557.6" y1="264.5" x2="557.6" y2="356.9" stroke="#111" stroke-width="1.8"/>
<line x1="556.7" y1="355.9" x2="683.8" y2="355.9" stroke="#111" stroke-width="1.9"/>
<line x1="554.1" y1="355.9" x2="557.6" y2="355.9" stroke="#111" stroke-width="1.4"/>
<text transform="translate(553.0,358.2) scale(0.8150,1)" font-size="6.40" text-anchor="end" font-weight="bold" fill="#222" >0</text>
<line x1="554.1" y1="340.7833333333333" x2="557.6" y2="340.7833333333333" stroke="#111" stroke-width="1.4"/>
<text transform="translate(553.0,343.0833333333333) scale(0.8150,1)" font-size="6.40" text-anchor="end" font-weight="bold" fill="#222" >20</text>
<line x1="554.1" y1="325.66666666666663" x2="557.6" y2="325.66666666666663" stroke="#111" stroke-width="1.4"/>
<text transform="translate(553.0,327.96666666666664) scale(0.8150,1)" font-size="6.40" text-anchor="end" font-weight="bold" fill="#222" >40</text>
<line x1="554.1" y1="310.54999999999995" x2="557.6" y2="310.54999999999995" stroke="#111" stroke-width="1.4"/>
<text transform="translate(553.0,312.84999999999997) scale(0.8150,1)" font-size="6.40" text-anchor="end" font-weight="bold" fill="#222" >60</text>
<line x1="554.1" y1="295.43333333333334" x2="557.6" y2="295.43333333333334" stroke="#111" stroke-width="1.4"/>
<text transform="translate(553.0,297.73333333333335) scale(0.8150,1)" font-size="6.40" text-anchor="end" font-weight="bold" fill="#222" >80</text>
<line x1="554.1" y1="280.31666666666666" x2="557.6" y2="280.31666666666666" stroke="#111" stroke-width="1.4"/>
<text transform="translate(553.0,282.6166666666667) scale(0.8150,1)" font-size="6.40" text-anchor="end" font-weight="bold" fill="#222" >100</text>
<line x1="554.1" y1="265.2" x2="557.6" y2="265.2" stroke="#111" stroke-width="1.4"/>
<text transform="translate(553.0,267.5) scale(0.8150,1)" font-size="6.40" text-anchor="end" font-weight="bold" fill="#222" >120</text>
<text transform="translate(577.1,276.7) scale(0.9091,1)" font-size="7.59" text-anchor="middle" font-weight="normal" fill="#333" >100.00</text>
<text transform="translate(606.2,270.2) scale(0.9091,1)" font-size="7.59" text-anchor="middle" font-weight="normal" fill="#333" >108.44</text>
<text transform="translate(635.6,318.8) scale(0.9091,1)" font-size="7.59" text-anchor="middle" font-weight="normal" fill="#333" >44.80</text>
<text transform="translate(664.5,269.5) scale(0.9091,1)" font-size="7.59" text-anchor="middle" font-weight="normal" fill="#333" >108.79</text>
<text transform="translate(537.0,311.6) rotate(-90)" x="0" y="2.81" font-size="7.8" text-anchor="middle" font-weight="normal" fill="#222">SOD2 Activity Intensity [%]</text>
</g>
</svg>
</body></html>
